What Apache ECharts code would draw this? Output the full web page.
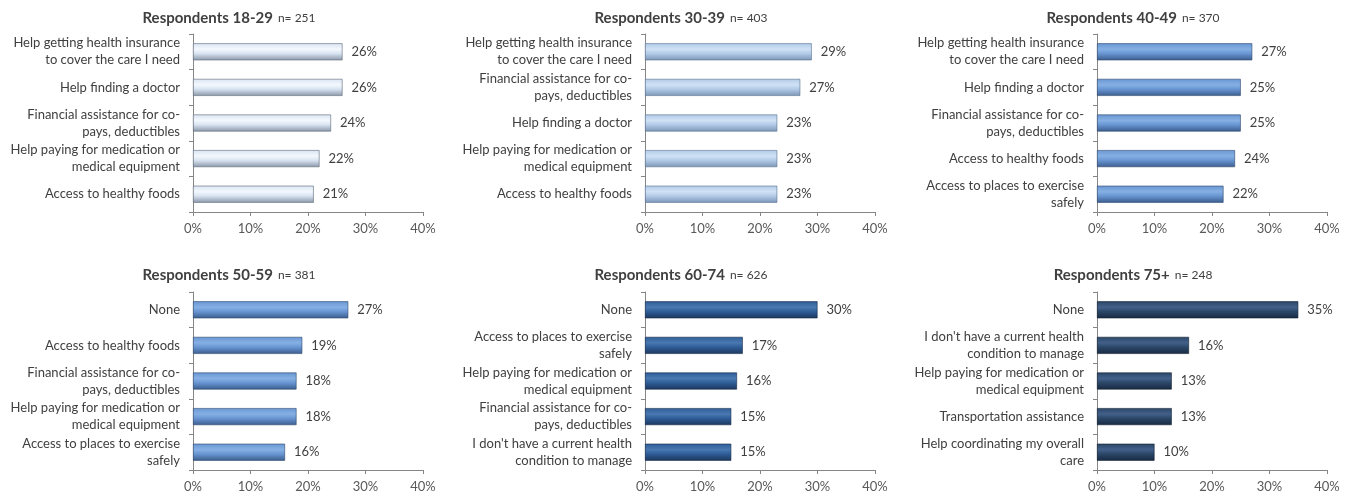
<!DOCTYPE html>
<html>
<head>
<meta charset="utf-8">
<script src="https://cdn.jsdelivr.net/npm/echarts@6/dist/echarts.min.js"></script>
<style>
html,body{margin:0;padding:0;background:#fff;}
#c{width:1357px;height:498px;}
</style>
</head>
<body>
<div id="c"></div>
<script>
// ---- data ----
const panelTitles = ['Respondents 18-29', 'Respondents 30-39', 'Respondents 40-49', 'Respondents 50-59', 'Respondents 60-74', 'Respondents 75+'];
const panelN = [251, 403, 370, 381, 626, 248];

const cats1829 = ['Help getting health insurance\nto cover the care I need', 'Help finding a doctor', 'Financial assistance for co-\npays, deductibles', 'Help paying for medication or\nmedical equipment', 'Access to healthy foods'];
const vals1829 = [26, 26, 24, 22, 21];

const cats3039 = ['Help getting health insurance\nto cover the care I need', 'Financial assistance for co-\npays, deductibles', 'Help finding a doctor', 'Help paying for medication or\nmedical equipment', 'Access to healthy foods'];
const vals3039 = [29, 27, 23, 23, 23];

const cats4049 = ['Help getting health insurance\nto cover the care I need', 'Help finding a doctor', 'Financial assistance for co-\npays, deductibles', 'Access to healthy foods', 'Access to places to exercise\nsafely'];
const vals4049 = [27, 25, 25, 24, 22];

const cats5059 = ['None', 'Access to healthy foods', 'Financial assistance for co-\npays, deductibles', 'Help paying for medication or\nmedical equipment', 'Access to places to exercise\nsafely'];
const vals5059 = [27, 19, 18, 18, 16];

const cats6074 = ['None', 'Access to places to exercise\nsafely', 'Help paying for medication or\nmedical equipment', 'Financial assistance for co-\npays, deductibles', "I don't have a current health\ncondition to manage"];
const vals6074 = [30, 17, 16, 15, 15];

const cats75 = ['None', "I don't have a current health\ncondition to manage", 'Help paying for medication or\nmedical equipment', 'Transportation assistance', 'Help coordinating my overall\ncare'];
const vals75 = [35, 16, 13, 13, 10];

const xTicks = [0, 10, 20, 30, 40];

const allCats = [cats1829, cats3039, cats4049, cats5059, cats6074, cats75];
const allVals = [vals1829, vals3039, vals4049, vals5059, vals6074, vals75];

// ---- styling ----
const palettes = [
  ['#d9e4f2', '#f3f8fd', '#8a97a8', '#5d6878'],
  ['#b3cbe7', '#cfe1f5', '#7d96b7', '#56708f'],
  ['#6996d3', '#86b0e4', '#3b5d8d', '#2c466c'],
  ['#6996d3', '#86b0e4', '#3b5d8d', '#2c466c'],
  ['#2f5d98', '#4a78b0', '#1c375d', '#142a48'],
  ['#2b4768', '#43608a', '#182a42', '#101e30']
];
const FONT = 'Lato, "Open Sans", sans-serif';
const lefts = [193, 645, 1097];
const tops = [34, 292];
const gridW = 230, gridH = 178;

const grids = [], xAxes = [], yAxes = [], series = [], titles = [];
for (let i = 0; i < 6; i++) {
  const col = i % 3, row = Math.floor(i / 3);
  grids.push({left: lefts[col], top: tops[row], width: gridW, height: gridH});
  xAxes.push({
    type: 'value', gridIndex: i, min: xTicks[0], max: xTicks[xTicks.length - 1], interval: 10,
    axisLine: {show: true, lineStyle: {color: '#868686'}},
    axisTick: {show: true, length: 4, lineStyle: {color: '#868686'}},
    splitLine: {show: false},
    axisLabel: {formatter: '{value}%', color: '#595959', fontFamily: FONT, fontSize: 13, margin: 10}
  });
  yAxes.push({
    type: 'category', gridIndex: i, data: allCats[i], inverse: true,
    axisLine: {show: true, lineStyle: {color: '#868686'}},
    axisTick: {show: true, length: 4, lineStyle: {color: '#868686'}},
    axisLabel: {color: '#404040', fontFamily: FONT, fontSize: 13, margin: 13, lineHeight: 17, align: 'right'}
  });
  const p = palettes[i];
  series.push({
    type: 'bar', xAxisIndex: i, yAxisIndex: i, data: allVals[i], barWidth: 17,
    itemStyle: {
      color: {type: 'linear', x: 0, y: 0, x2: 0, y2: 1, colorStops: [
        {offset: 0, color: p[0]}, {offset: 0.35, color: p[1]}, {offset: 0.6, color: p[0]}, {offset: 1, color: p[2]}
      ]},
      borderColor: p[3], borderWidth: 0.6
    },
    label: {show: true, position: 'right', distance: 9, formatter: '{c}%', color: '#404040', fontFamily: FONT, fontSize: 13},
    silent: true, animation: false
  });
  const titleCx = [224, 676, 1128][col];
  titles.push({
    text: '{b|' + panelTitles[i] + '} {n|n= ' + panelN[i] + '}',
    left: titleCx, top: row === 0 ? 4 : 261, textAlign: 'center',
    textStyle: {fontWeight: 'normal', rich: {
      b: {fontFamily: FONT, fontWeight: 'bold', fontSize: 15, color: '#404040'},
      n: {fontFamily: FONT, fontWeight: 'normal', fontSize: 12, color: '#404040'}
    }}
  });
}

const chart = echarts.init(document.getElementById('c'), null, {renderer: 'canvas'});
chart.setOption({
  animation: false,
  backgroundColor: '#ffffff',
  title: titles,
  grid: grids,
  xAxis: xAxes,
  yAxis: yAxes,
  series: series
});
</script>
</body>
</html>
